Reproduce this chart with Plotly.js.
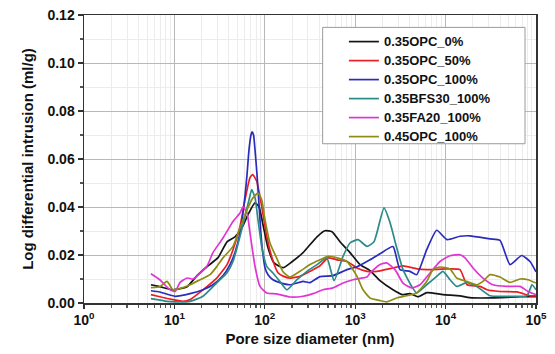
<!DOCTYPE html>
<html>
<head>
<meta charset="utf-8">
<script src="https://cdn.plot.ly/plotly-3.0.1.min.js"></script>
<style>html,body{margin:0;padding:0;background:#fff;}#chart{width:555px;height:354px;}</style>
</head>
<body>
<div id="chart"></div>
<script>
// Series names
const seriesNames = ['0.35OPC_0%', '0.35OPC_50%', '0.35OPC_100%', '0.35BFS30_100%', '0.35FA20_100%', '0.45OPC_100%'];

// Pore size diameter (nm) and log differential intrusion (ml/g) per series
const opc35_0_x = [5.5, 6.9, 9.65, 13.8, 17.8, 22.9, 30.4, 38.2, 46.8, 56, 65.2, 77.9, 86.3, 95.5, 108.5, 126, 159, 200, 265, 378, 463, 554, 679, 876, 1130, 1458, 1881, 2619, 3294, 4039, 4951, 6226, 9360, 14430, 18600, 40000, 66530, 100000];
const opc35_0_y = [0.0076, 0.0068, 0.0055, 0.0068, 0.0114, 0.0151, 0.0189, 0.0255, 0.0276, 0.0314, 0.0368, 0.0417, 0.0401, 0.0326, 0.0230, 0.0168, 0.0147, 0.0172, 0.0210, 0.0276, 0.0301, 0.0297, 0.0255, 0.0210, 0.0160, 0.0135, 0.0093, 0.0055, 0.0035, 0.0039, 0.0026, 0.0043, 0.0035, 0.0030, 0.0022, 0.0022, 0.0026, 0.0026];

const opc35_50_x = [5.5, 6.9, 9.65, 12.4, 14.9, 20.7, 29.6, 38.2, 44.5, 53.2, 60.4, 68.6, 73.5, 81.4, 92.4, 105, 119, 140, 159, 190, 245, 316, 408, 500, 629, 812, 1047, 1351, 1743, 2619, 3379, 4828, 6226, 10360, 14430, 17250, 24000, 28700, 40000, 61640, 85800, 100000];
const opc35_50_y = [0.0035, 0.0026, 0.0014, 0.0007, 0.0014, 0.0055, 0.0105, 0.0160, 0.0222, 0.0319, 0.0430, 0.0522, 0.0535, 0.0507, 0.0403, 0.0278, 0.0194, 0.0126, 0.0112, 0.0104, 0.0111, 0.0132, 0.0155, 0.0188, 0.0180, 0.0173, 0.0146, 0.0132, 0.0132, 0.0146, 0.0155, 0.0142, 0.0139, 0.0142, 0.0139, 0.0076, 0.0069, 0.0055, 0.0048, 0.0046, 0.0030, 0.0030];

const opc35_100_x = [5.5, 6.9, 10.2, 14.9, 20.7, 26.7, 34.5, 41.2, 46.8, 53.2, 57.4, 60.4, 63.6, 66.9, 70.4, 72.2, 75.0, 77.9, 82.0, 86.3, 90.8, 95.5, 100.5, 108.5, 123, 147, 190, 265, 316, 408, 568, 812, 1047, 1458, 1881, 2619, 3130, 4039, 4789, 6180, 7972, 10360, 14430, 18600, 31000, 40000, 51570, 69480, 85800, 100000];
const opc35_100_y = [0.0051, 0.0046, 0.0028, 0.0039, 0.0055, 0.0076, 0.0114, 0.0160, 0.0210, 0.0292, 0.0376, 0.0447, 0.0535, 0.0639, 0.0701, 0.0713, 0.0701, 0.0639, 0.0535, 0.0410, 0.0285, 0.0201, 0.0147, 0.0118, 0.0097, 0.0085, 0.0076, 0.0090, 0.0085, 0.0110, 0.0114, 0.0139, 0.0151, 0.0180, 0.0205, 0.0235, 0.0139, 0.0132, 0.0118, 0.0222, 0.0303, 0.0264, 0.0278, 0.0280, 0.0267, 0.0261, 0.0160, 0.0198, 0.0173, 0.0130];

const bfs30_x = [5.5, 8.28, 10.2, 14.9, 20.7, 29.6, 38.2, 44.5, 53.2, 60.4, 66.9, 71.6, 77.9, 84.1, 92.4, 105, 123, 147, 176, 227, 293, 378, 484, 583, 733, 876, 1074, 1351, 1614, 2083, 2427, 2877, 3379, 4217, 4789, 6180, 7972, 9360, 11190, 13270, 17120, 22100, 31000, 55670, 79500, 90300, 100000];
const bfs30_y = [0.0018, 0.0007, 0.0005, 0.0007, 0.0028, 0.0085, 0.0126, 0.0173, 0.0278, 0.0361, 0.0430, 0.0472, 0.0439, 0.0347, 0.0236, 0.0153, 0.0125, 0.0090, 0.0055, 0.0097, 0.0132, 0.0160, 0.0188, 0.0093, 0.0194, 0.0250, 0.0264, 0.0236, 0.0255, 0.0396, 0.0335, 0.0230, 0.0139, 0.0069, 0.0042, 0.0076, 0.0111, 0.0132, 0.0097, 0.0069, 0.0085, 0.0069, 0.0030, 0.0028, 0.0030, 0.0076, 0.0055];

const fa20_x = [5.5, 6.9, 8.94, 10.2, 11.5, 13.8, 16.1, 19.2, 22.9, 26.7, 34.5, 44.5, 53.2, 57.4, 63.6, 68.6, 77.9, 88.5, 105, 135, 190, 265, 341, 440, 568, 733, 946, 1351, 1458, 1881, 2231, 2756, 3379, 4217, 5211, 6722, 8670, 11190, 14430, 16400, 20100, 25900, 33450, 47780, 66530, 81550, 100000];
const fa20_y = [0.0122, 0.0097, 0.0055, 0.0048, 0.0085, 0.0104, 0.0100, 0.0125, 0.0153, 0.0210, 0.0271, 0.0340, 0.0375, 0.0401, 0.0376, 0.0292, 0.0153, 0.0069, 0.0042, 0.0038, 0.0025, 0.0028, 0.0039, 0.0055, 0.0063, 0.0083, 0.0097, 0.0108, 0.0125, 0.0160, 0.0167, 0.0139, 0.0083, 0.0063, 0.0076, 0.0125, 0.0173, 0.0197, 0.0201, 0.0188, 0.0146, 0.0104, 0.0076, 0.0069, 0.0069, 0.0048, 0.0035];

const opc45_x = [5.5, 6.9, 8.28, 9.65, 12.4, 14.9, 19.2, 24.8, 29.6, 34.5, 44.5, 53.2, 63.6, 74.0, 84.1, 92.4, 100.5, 114, 135, 159, 190, 245, 316, 408, 500, 629, 812, 1047, 1220, 1458, 1881, 2231, 2877, 3713, 4789, 6180, 7255, 8670, 11190, 13270, 17120, 22100, 25900, 31000, 40000, 51570, 66530, 81550, 100000];
const opc45_y = [0.0064, 0.0068, 0.0090, 0.0055, 0.0064, 0.0076, 0.0097, 0.0118, 0.0153, 0.0188, 0.0236, 0.0313, 0.0389, 0.0438, 0.0458, 0.0430, 0.0347, 0.0250, 0.0188, 0.0130, 0.0108, 0.0132, 0.0160, 0.0180, 0.0194, 0.0188, 0.0173, 0.0111, 0.0055, 0.0021, 0.0010, 0.0005, 0.0021, 0.0030, 0.0042, 0.0090, 0.0139, 0.0150, 0.0142, 0.0104, 0.0090, 0.0076, 0.0090, 0.0118, 0.0108, 0.0086, 0.0100, 0.0097, 0.0083];

// Axis ticks
const xTickVals = [1, 10, 100, 1000, 10000, 100000];
const xTickText = ['10<sup>0</sup>', '10<sup>1</sup>', '10<sup>2</sup>', '10<sup>3</sup>', '10<sup>4</sup>', '10<sup>5</sup>'];
const xMinorVals = [];
for (let e = 0; e < 5; e++) for (let m = 2; m <= 9; m++) xMinorVals.push(m * Math.pow(10, e));

const seriesX = [opc35_0_x, opc35_50_x, opc35_100_x, bfs30_x, fa20_x, opc45_x];
const seriesY = [opc35_0_y, opc35_50_y, opc35_100_y, bfs30_y, fa20_y, opc45_y];
const colors = ['#141414', '#ec1e24', '#2c2cbc', '#2a8a88', '#e034d4', '#8e8c12'];

const font = 'Liberation Sans, Arial, Helvetica, sans-serif';
const traces = seriesNames.map((n, i) => ({
  x: seriesX[i], y: seriesY[i], type: 'scatter', mode: 'lines',
  name: '<span style="font-size:13px">' + n + '</span>',
  line: {color: colors[i], width: 1.7, shape: 'spline', smoothing: 0.5}
}));

const layout = {
  width: 555, height: 354,
  margin: {l: 84, r: 19, t: 15, b: 51},
  paper_bgcolor: '#fff', plot_bgcolor: '#fff',
  font: {family: font, color: '#111'},
  showlegend: true,
  legend: {x: 0.575, xanchor: 'left', y: 0.958, yanchor: 'top', bgcolor: 'rgba(0,0,0,0)', borderwidth: 0,
           font: {family: font, size: 11.5, weight: 'bold', color: '#111'}},
  shapes: [{type: 'rect', xref: 'paper', yref: 'paper', x0: 0.528, x1: 0.9757, y0: 0.553, y1: 0.957,
            line: {color: '#9a9a9a', width: 1}, fillcolor: '#fff', layer: 'above'}],
  xaxis: {
    type: 'log', range: [0, 5],
    tickmode: 'array', tickvals: xTickVals, ticktext: xTickText,
    tickfont: {family: font, size: 14, weight: 'bold', color: '#111'},
    ticks: 'outside', ticklen: 4, tickwidth: 1.3, tickcolor: '#333',
    showgrid: true, gridcolor: '#b8b8b8', gridwidth: 1,
    minor: {tickmode: 'array', tickvals: xMinorVals, ticks: 'outside', ticklen: 3, tickcolor: '#555', showgrid: true, gridcolor: '#ececec', gridwidth: 1},
    showline: true, linecolor: '#333', linewidth: 1.5, mirror: true, zeroline: false,
    title: {text: 'Pore size diameter (nm)', font: {family: font, size: 15, weight: 'bold', color: '#111'}, standoff: 6}
  },
  yaxis: {
    range: [0, 0.12], dtick: 0.02, tick0: 0, tickformat: '.2f',
    tickfont: {family: font, size: 14, weight: 'bold', color: '#111'},
    ticks: 'outside', ticklen: 5, tickwidth: 1.3, tickcolor: '#333',
    showgrid: true, gridcolor: '#b8b8b8', gridwidth: 1,
    minor: {dtick: 0.01, ticks: 'outside', ticklen: 3, tickcolor: '#555', showgrid: true, gridcolor: '#ececec', gridwidth: 1},
    showline: true, linecolor: '#333', linewidth: 1.5, mirror: true, zeroline: false,
    title: {text: 'Log differential intrusion (ml/g)', font: {family: font, size: 15, weight: 'bold', color: '#111'}, standoff: 10}
  }
};

Plotly.newPlot('chart', traces, layout, {displayModeBar: false, staticPlot: true});
</script>
</body>
</html>
